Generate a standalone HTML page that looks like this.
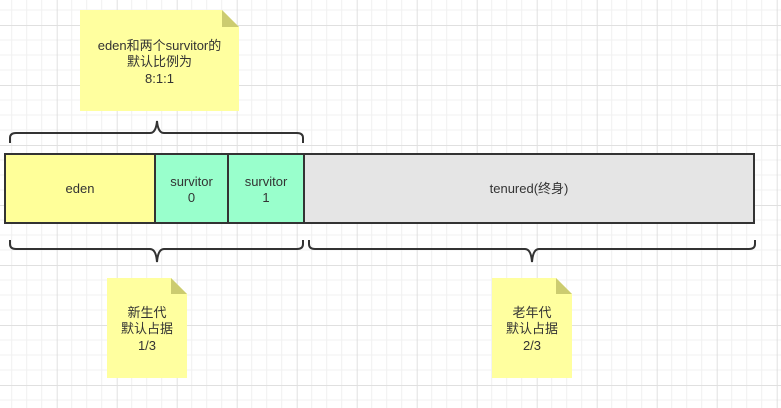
<!DOCTYPE html>
<html><head><meta charset="utf-8"><style>
html,body{margin:0;padding:0;background:#fff}
svg{display:block}
text{font-family:"Liberation Sans","Noto Sans CJK SC",sans-serif;font-size:13px;fill:#333}
</style></head><body>
<svg width="781" height="408" viewBox="0 0 781 408" xmlns="http://www.w3.org/2000/svg">
<defs>
<pattern id="g" width="60" height="60" patternUnits="userSpaceOnUse" x="-3.3" y="25">
<path d="M15 0V60M30 0V60M45 0V60M0 15H60M0 30H60M0 45H60" stroke="#f0f0f0" stroke-width="1"/>
<path d="M0.5 0V60M0 0.5H60" stroke="#e0e0e0" stroke-width="1"/>
</pattern>
</defs>
<rect width="781" height="408" fill="url(#g)"/>
<!-- top note -->
<path d="M80 10H222L239 27V111H80Z" fill="#ffff9f"/>
<path d="M222 10L239 27H222Z" fill="#cccc70"/>
<text x="159.5" y="50" text-anchor="middle">eden和两个survitor的</text>
<text x="159.5" y="66" text-anchor="middle">默认比例为</text>
<text x="159.5" y="83" text-anchor="middle">8:1:1</text>
<!-- top brace -->
<path d="M10 143V138Q10 133 16 133H150Q156 133 157 121Q158 133 164 133H297Q303 133 303 138V143" fill="none" stroke="#333" stroke-width="2"/>
<!-- rects -->
<rect x="5" y="154" width="150" height="69" fill="#ffff99" stroke="#333" stroke-width="2"/>
<rect x="155" y="154" width="73" height="69" fill="#99ffcc" stroke="#333" stroke-width="2"/>
<rect x="228" y="154" width="76" height="69" fill="#99ffcc" stroke="#333" stroke-width="2"/>
<rect x="304" y="154" width="450" height="69" fill="#e5e5e5" stroke="#333" stroke-width="2"/>
<text x="80" y="193" text-anchor="middle">eden</text>
<text x="191.5" y="186" text-anchor="middle">survitor</text>
<text x="191.5" y="202" text-anchor="middle">0</text>
<text x="266" y="186" text-anchor="middle">survitor</text>
<text x="266" y="202" text-anchor="middle">1</text>
<text x="529" y="193" text-anchor="middle">tenured(终身)</text>
<!-- bottom braces -->
<path d="M10 240V244Q10 249 16 249H150Q156 249 157 262Q158 249 164 249H297Q303 249 303 244V240" fill="none" stroke="#333" stroke-width="2"/>
<path d="M309 240V244Q309 249 315 249H525Q531 249 532 262Q533 249 539 249H749Q755 249 755 244V240" fill="none" stroke="#333" stroke-width="2"/>
<!-- bottom notes -->
<path d="M107 278H171L187 294V378H107Z" fill="#ffff9f"/>
<path d="M171 278L187 294H171Z" fill="#cccc70"/>
<text x="147" y="317" text-anchor="middle">新生代</text>
<text x="147" y="333" text-anchor="middle">默认占据</text>
<text x="147" y="350" text-anchor="middle">1/3</text>
<path d="M492 278H556L572 294V378H492Z" fill="#ffff9f"/>
<path d="M556 278L572 294H556Z" fill="#cccc70"/>
<text x="532" y="317" text-anchor="middle">老年代</text>
<text x="532" y="333" text-anchor="middle">默认占据</text>
<text x="532" y="350" text-anchor="middle">2/3</text>
</svg>
</body></html>
